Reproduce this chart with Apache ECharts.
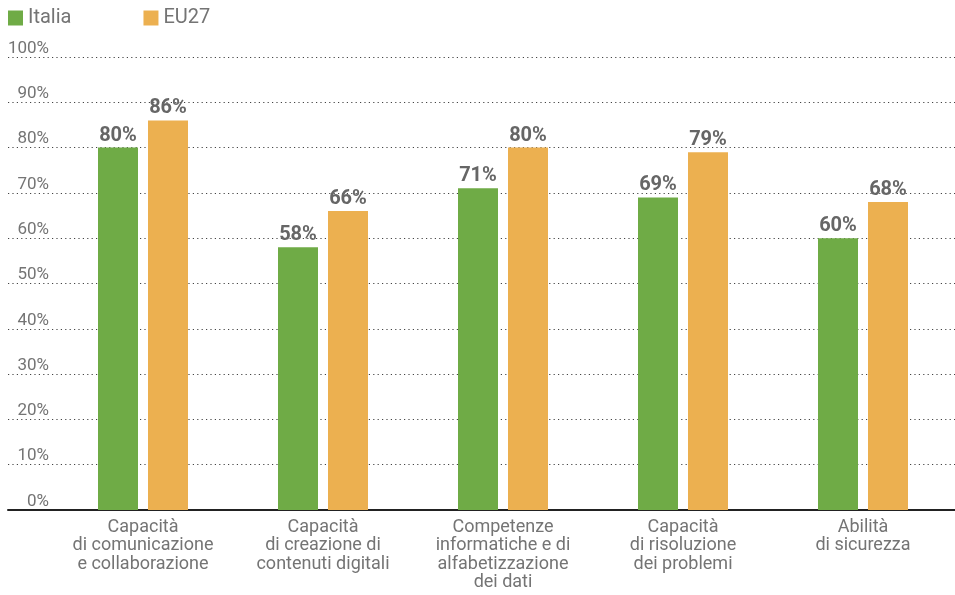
<!DOCTYPE html>
<html>
<head>
<meta charset="utf-8">
<script src="https://cdn.jsdelivr.net/npm/echarts@6/dist/echarts.min.js"></script>
<style>
  html, body { margin: 0; padding: 0; background: #fff; }
  #chart { width: 955px; height: 595px; }
</style>
</head>
<body>
<div id="chart"></div>
<script>
// Competenze digitali: Italia vs EU27 (% of people)
const categories = [
  'Capacità\ndi comunicazione\ne collaborazione',
  'Capacità\ndi creazione di\ncontenuti digitali',
  'Competenze\ninformatiche e di\nalfabetizzazione\ndei dati',
  'Capacità\ndi risoluzione\ndei problemi',
  'Abilità\ndi sicurezza'
];
const italia = [80, 58, 71, 69, 60];
const eu27 = [86, 66, 80, 79, 68];
const seriesNames = ['Italia', 'EU27'];
const yTicks = { min: 0, max: 100, interval: 10 };

const FONT = 'Roboto, "Open Sans", sans-serif';
const GREEN = '#6fab46';
const ORANGE = '#ecb050';
const TEXT = '#747474';

const chart = echarts.init(document.getElementById('chart'), null, { renderer: 'canvas' });

const barLabel = {
  show: true,
  position: 'top',
  distance: 2,
  formatter: p => p.value + '%',
  color: '#666',
  fontFamily: FONT,
  fontWeight: 'bold',
  fontSize: 20
};

chart.setOption({
  animation: false,
  textStyle: { fontFamily: FONT },
  legend: {
    left: 8,
    top: 8,
    padding: 0,
    icon: 'rect',
    itemWidth: 15,
    itemHeight: 15,
    itemGap: 72,
    data: seriesNames,
    textStyle: { color: TEXT, fontSize: 20, fontFamily: FONT }
  },
  grid: [
    // bars
    { left: 53, right: 2, top: 57, bottom: 85 },
    // full-width gridlines, value labels and baseline
    { left: 8, right: 0, top: 57, bottom: 85 }
  ],
  xAxis: [
    {
      gridIndex: 0,
      type: 'category',
      data: categories,
      axisLine: { show: false },
      axisTick: { show: false },
      axisLabel: {
        color: TEXT,
        fontSize: 18,
        lineHeight: 18.5,
        margin: 8,
        interval: 0,
        fontFamily: FONT
      }
    },
    {
      gridIndex: 1,
      type: 'category',
      data: [''],
      axisLine: { show: true, lineStyle: { color: '#222', width: 2 } },
      axisTick: { show: false },
      axisLabel: { show: false }
    }
  ],
  yAxis: [
    {
      gridIndex: 0,
      type: 'value',
      min: yTicks.min,
      max: yTicks.max,
      interval: yTicks.interval,
      show: false,
      splitLine: { show: false }
    },
    {
      gridIndex: 1,
      type: 'value',
      min: yTicks.min,
      max: yTicks.max,
      interval: yTicks.interval,
      axisLine: { show: false },
      axisTick: { show: false },
      axisLabel: {
        inside: true,
        margin: 41,
        align: 'right',
        verticalAlign: 'bottom',
        padding: 0,
        formatter: v => v + '%',
        color: TEXT,
        fontSize: 17,
        fontFamily: FONT
      },
      splitLine: {
        show: true,
        lineStyle: { color: '#444', width: 1, type: [1.2, 3.2] }
      }
    }
  ],
  series: [
    {
      name: seriesNames[0],
      type: 'bar',
      xAxisIndex: 0,
      yAxisIndex: 0,
      data: italia,
      barWidth: 40,
      barGap: '25%',
      itemStyle: { color: GREEN },
      label: barLabel,
      z: 3
    },
    {
      name: seriesNames[1],
      type: 'bar',
      xAxisIndex: 0,
      yAxisIndex: 0,
      data: eu27,
      barWidth: 40,
      barGap: '25%',
      itemStyle: { color: ORANGE },
      label: barLabel,
      z: 3
    }
  ]
});
</script>
</body>
</html>
